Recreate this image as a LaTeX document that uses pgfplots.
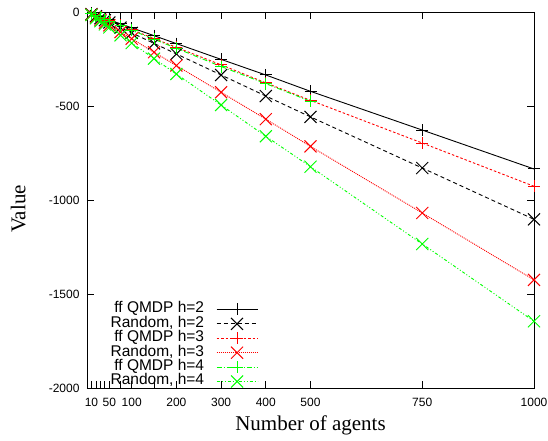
\documentclass[border=0pt]{standalone}
\usepackage{fontspec}
\setmainfont{Liberation Serif}
\setsansfont{Liberation Sans}
\usepackage{pgfplots}
\pgfplotsset{compat=1.18}
\definecolor{gpred}{RGB}{255,0,0}
\definecolor{gpgreen}{RGB}{0,255,0}
\begin{document}
\begin{tikzpicture}
\begin{axis}[
  at={(0pt,0pt)}, anchor=south west,
  scale only axis, width=447pt, height=376pt,
  xmin=0, xmax=1000, ymin=-2000, ymax=0,
  xtick={10,20,30,40,50,75,100,150,200,300,400,500,750,1000},
  xticklabels={10,,,,50,,100,,200,300,400,500,750,1000},
  ytick={-2000,-1500,-1000,-500,0},
  yticklabels={-2000,-1500,-1000,-500,0},
  tick align=inside, major tick length=7pt,
  tick style={black, line width=0.8pt},
  axis line style={line width=0.8pt},
  tick label style={font=\sffamily\fontsize{12}{12}\selectfont},
  xticklabel style={yshift=-7pt},
  yticklabel style={xshift=-4pt},
  xlabel={Number of agents}, ylabel={Value},
  label style={font=\rmfamily\fontsize{21}{22}\selectfont},
  xlabel style={at={(axis description cs:0.5,0)}, anchor=base, yshift=-42pt},
  ylabel style={at={(axis description cs:-0.154,0.476)}, anchor=center},
  legend style={at={(axis description cs:0.3826,0.228)}, anchor=north east,
    draw=none, fill=none, inner sep=0pt, outer sep=0pt,
    cells={anchor=east},
    nodes={inner sep=0pt, text height=10.6pt, text depth=3.8pt,
      font=\sffamily\fontsize{15.5}{14}\selectfont},
    column sep=12pt},
  legend plot pos=right,
  legend image code/.code={\draw[mark repeat=2,mark phase=2,#1] plot coordinates {(0pt,0pt)(20.5pt,0pt)(41pt,0pt)};},
  every axis plot/.append style={line width=0.9pt},
  plus/.style={mark=+, mark size=6pt},
  cross/.style={mark=x, mark size=8.5pt},
]
% ff QMDP h=2
\addplot[draw=black, plus, mark options={solid, draw=black, line width=1pt}] coordinates {
  (10,-8) (20,-17) (30,-25) (40,-34) (50,-42) (75,-63) (100,-84) (150,-126)
  (200,-168) (300,-252) (400,-335) (500,-422) (750,-628) (1000,-835)};
\addlegendentry{ff QMDP h=2}
% Random h=2
\addplot[draw=black, dash pattern=on 4pt off 3pt, cross, mark options={solid, draw=black, line width=1pt}] coordinates {
  (10,-11) (20,-22) (30,-33) (40,-44) (50,-56) (75,-83) (100,-111) (150,-167)
  (200,-223) (300,-335) (400,-447) (500,-558) (750,-830) (1000,-1103)};
\addlegendentry{Random, h=2}
% ff QMDP h=3
\addplot[draw=gpred, dash pattern=on 2.5pt off 2pt, plus, mark options={solid, draw=gpred, line width=1pt}] coordinates {
  (10,-9) (20,-19) (30,-28) (40,-37) (50,-47) (75,-70) (100,-94) (150,-141)
  (200,-188) (300,-281) (400,-377) (500,-470) (750,-697) (1000,-927)};
\addlegendentry{ff QMDP h=3}
% Random h=3
\addplot[draw=gpred, dash pattern=on 1pt off 1pt, cross, mark options={solid, draw=gpred, line width=1pt}] coordinates {
  (10,-14) (20,-28) (30,-43) (40,-57) (50,-71) (75,-107) (100,-142) (150,-214)
  (200,-285) (300,-427) (400,-570) (500,-715) (750,-1069) (1000,-1425)};
\addlegendentry{Random, h=3}
% ff QMDP h=4
\addplot[draw=gpgreen, dash pattern=on 5pt off 2pt on 1pt off 2pt, plus, mark options={solid, draw=gpgreen, line width=1pt}] coordinates {
  (10,-10) (20,-19) (30,-29) (40,-39) (50,-48) (75,-72) (100,-97) (150,-145)
  (200,-193) (300,-290) (400,-381) (500,-475)};
\addlegendentry{ff QMDP h=4}
% Random h=4
\addplot[draw=gpgreen, dash pattern=on 3pt off 2pt on 1pt off 2pt on 1pt off 2pt, cross, mark options={solid, draw=gpgreen, line width=1pt}] coordinates {
  (10,-16) (20,-33) (30,-49) (40,-66) (50,-82) (75,-124) (100,-165) (150,-248)
  (200,-330) (300,-495) (400,-661) (500,-823) (750,-1234) (1000,-1645)};
\addlegendentry{Random, h=4}
\end{axis}
\pgfresetboundingbox
\path (-87pt,-53pt) rectangle (461pt,388pt);
\end{tikzpicture}
\end{document}
